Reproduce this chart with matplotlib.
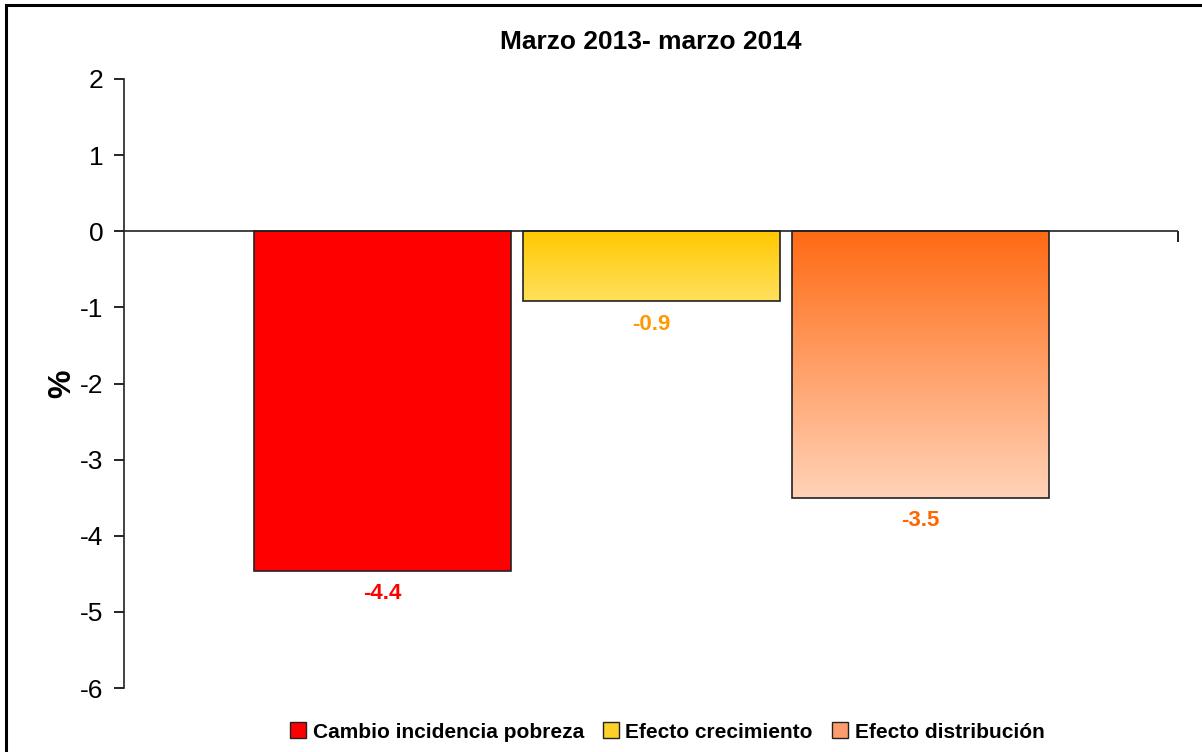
import numpy as np
import matplotlib
matplotlib.use("Agg")
import matplotlib.pyplot as plt
from matplotlib.colors import LinearSegmentedColormap
from matplotlib.patches import Rectangle, Patch

# Data
series = ["Cambio incidencia pobreza", "Efecto crecimiento", "Efecto distribución"]
values = [-4.46, -0.92, -3.5]
labels = ["-4.4", "-0.9", "-3.5"]
title = "Marzo 2013- marzo 2014"
yticks = [2, 1, 0, -1, -2, -3, -4, -5, -6]

# Styles: (top colour, bottom colour) for the gradient fill
fills = [("#FF0000", "#FF0000"), ("#FFC800", "#FFE05C"), ("#FF6A14", "#FFD3B8")]
label_colors = ["#FF0000", "#FF9900", "#FF6600"]

plt.rcParams["font.family"] = ["Liberation Sans", "DejaVu Sans"]

fig = plt.figure(figsize=(12.02, 7.52), dpi=100)
W, H = 1202, 752
ax = fig.add_axes([124 / W, 1 - 688 / H, (1178 - 124) / W, (688 - 79) / H])

x = np.arange(len(values))
bars = ax.bar(x, values, width=0.955, edgecolor="#222222", linewidth=1.2, zorder=2)

for bar, (top, bot) in zip(bars, fills):
    bar.set_facecolor("none")
    x0, y0 = bar.get_x(), bar.get_y()
    w, h = bar.get_width(), bar.get_height()
    cmap = LinearSegmentedColormap.from_list("g", [top, bot])
    grad = np.linspace(0, 1, 256).reshape(-1, 1)
    ymin, ymax = min(y0, y0 + h), max(y0, y0 + h)
    im = ax.imshow(grad, cmap=cmap, aspect="auto", origin="upper",
                   extent=[x0, x0 + w, ymin, ymax], zorder=1)
    im.set_clip_path(bar)

for xi, v, lab, c in zip(x, values, labels, label_colors):
    ax.annotate(lab, (xi, v), xytext=(0, -9), textcoords="offset points",
                ha="center", va="top", color=c, fontsize=16, fontweight="bold")

ax.set_xlim(-0.96, 2.957)
ax.set_ylim(-6, 2)
ax.set_yticks(yticks)
ax.set_yticklabels([str(t) for t in yticks], fontsize=19)
ax.tick_params(axis="y", direction="out", length=7, width=1.2, pad=8)
ax.set_xticks([])
ax.axhline(0, color="#222222", linewidth=1.2, zorder=3)
ax.plot([1], [0], transform=ax.get_yaxis_transform(), marker=3, markersize=8,
        markeredgewidth=1.4, color="#222222", clip_on=False)
ax.set_ylabel("%", fontsize=23, fontweight="bold", va="center")
ax.yaxis.set_label_coords(-0.059, 0.5)

for s in ["top", "right", "bottom"]:
    ax.spines[s].set_visible(False)
ax.spines["left"].set_linewidth(1.2)
ax.spines["left"].set_color("#222222")

fig.text(651 / W, 1 - 42 / H, title, ha="center", va="center",
         fontsize=19, fontweight="bold")

handles = [Patch(facecolor=c, edgecolor="#222222", linewidth=1) for c in
           ["#FF0000", "#FFD02A", "#FF9C6E"]]
fig.legend(handles, series, loc="center", bbox_to_anchor=(667 / W, 1 - 732 / H),
           ncol=3, frameon=False, prop={"size": 15, "weight": "bold"},
           handlelength=0.8, handleheight=0.8, handletextpad=0.3, columnspacing=0.9)

# Outer frame (only top and left edges visible in the crop)
fig.patches.append(Rectangle((6 / W, -0.1), 1.2, 1 - 5 / H + 0.1,
                             transform=fig.transFigure, fill=False,
                             edgecolor="black", linewidth=2.2))

fig.savefig("out.png", dpi=100)
